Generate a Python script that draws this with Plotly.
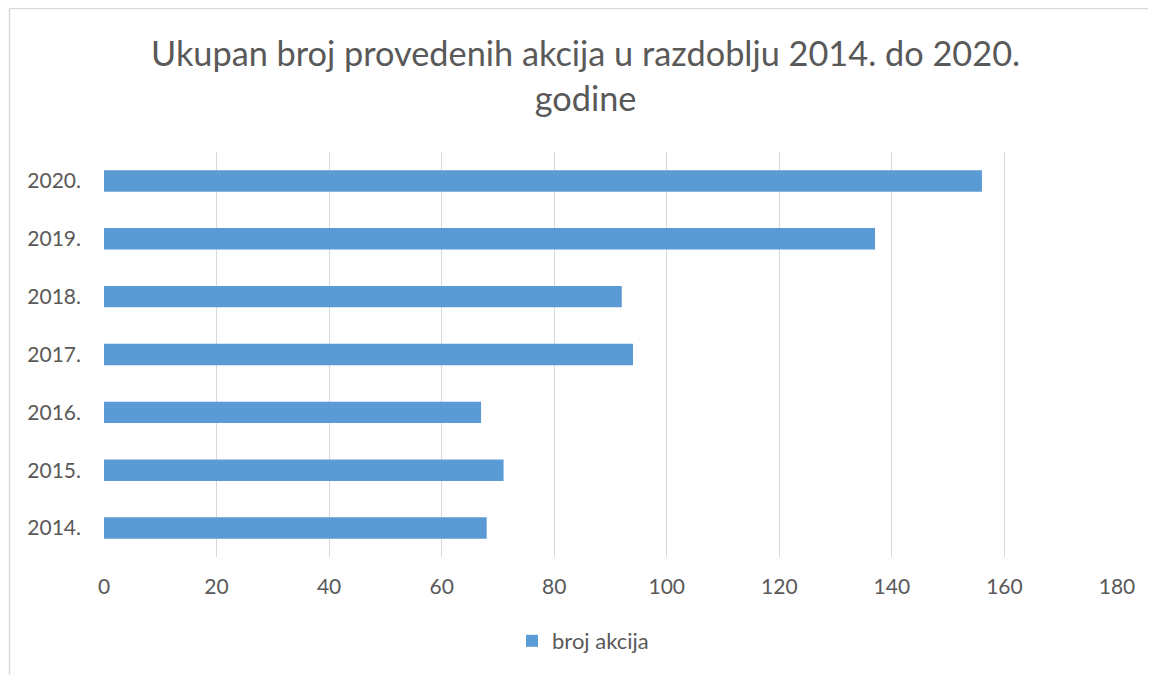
import plotly.graph_objects as go

years = ["2014.", "2015.", "2016.", "2017.", "2018.", "2019.", "2020."]
values = [68, 71, 67, 94, 92, 137, 156]
series_name = "broj akcija"
title_text = "Ukupan broj provedenih akcija u razdoblju 2014. do 2020.<br>godine"
x_ticks = [0, 20, 40, 60, 80, 100, 120, 140, 160, 180]

# page has an 8px body margin; work in screen pixel coordinates, shifted
OFF = 8
W, H = 1156 - OFF, 675 - OFF
L, R, T, B = 104 - OFF, 1117 - OFF, 152 - OFF, 557 - OFF  # plot area in figure px
pw, ph = R - L, B - T

def px_x(p):  # screen px -> paper
    return (p - OFF - L) / pw

def px_y(p):
    return (B - (p - OFF)) / ph

FONT = "Lato"
GREY = "#595959"

fig = go.Figure()
fig.add_trace(go.Bar(
    y=years, x=values, orientation="h", name=series_name,
    marker=dict(color="#5B9BD5", line=dict(width=0)),
    showlegend=True,
))

fig.update_layout(
    width=W, height=H,
    margin=dict(l=L, r=W - R, t=T, b=H - B, pad=0),
    paper_bgcolor="white", plot_bgcolor="white",
    bargap=0.63,
    font=dict(family=FONT, color=GREY, size=21),
    annotations=[dict(
        text=title_text, xref="paper", yref="paper",
        x=px_x(585.5), xanchor="center",
        y=px_y(30), yanchor="top", showarrow=False, align="center",
        font=dict(family=FONT, size=34.3, color=GREY),
    )],
    xaxis=dict(
        range=[0, 180], tickvals=x_ticks, showgrid=True,
        gridcolor="#D9D9D9", gridwidth=1.3, zeroline=False,
        showline=False, ticks="", ticklabelstandoff=15,
        tickfont=dict(family=FONT, size=21, color=GREY),
        fixedrange=True,
    ),
    yaxis=dict(
        showgrid=False, zeroline=False, showline=False, ticks="",
        ticklabelstandoff=22,
        tickfont=dict(family=FONT, size=21, color=GREY),
        fixedrange=True,
    ),
    legend=dict(
        orientation="h", x=px_x(583), xanchor="center",
        y=px_y(641), yanchor="middle",
        font=dict(family=FONT, size=22, color=GREY),
        itemwidth=30,
    ),
    shapes=[
        dict(type="line", xref="paper", yref="paper",
             x0=px_x(9.5), x1=px_x(1156 + 20), y0=px_y(8.5), y1=px_y(8.5),
             line=dict(color="#D9D9D9", width=1.5)),
        dict(type="line", xref="paper", yref="paper",
             x0=px_x(9.5), x1=px_x(9.5), y0=px_y(8.5), y1=px_y(675 + 20),
             line=dict(color="#D9D9D9", width=1.5)),
    ],
)

fig.write_html("out.html")
